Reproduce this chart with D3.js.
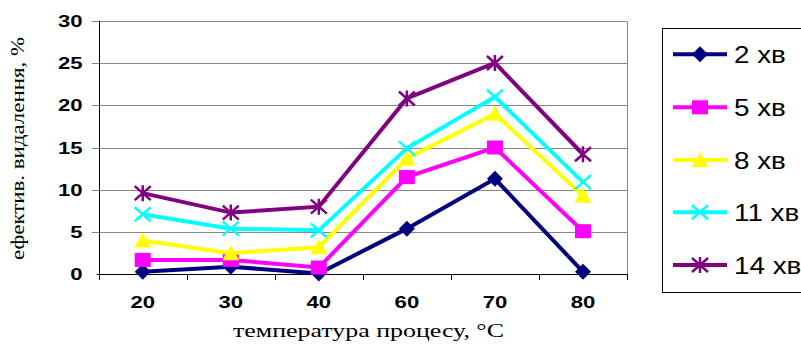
<!DOCTYPE html>
<html>
<head>
<meta charset="utf-8">
<script src="https://cdn.jsdelivr.net/npm/d3@7"></script>
<style>
  html, body { margin: 0; padding: 0; background: #fff; }
  svg { display: block; }
</style>
</head>
<body>
<svg id="chart" width="801" height="349"></svg>
<script>
// Temperature of the process, °C (categorical axis)
const categories = ["20", "30", "40", "60", "70", "80"];

// Removal efficiency, % — one array per treatment time
const series2min  = [0.3, 0.9, 0.1, 5.4, 11.3, 0.3];
const series5min  = [1.7, 1.7, 0.8, 11.5, 15.0, 5.1];
const series8min  = [4.0, 2.5, 3.2, 13.7, 19.0, 9.3];
const series11min = [7.1, 5.4, 5.2, 14.9, 21.0, 10.9];
const series14min = [9.6, 7.3, 8.0, 20.8, 25.0, 14.2];

const seriesNames = ["2 хв", "5 хв", "8 хв", "11 хв", "14 хв"];
const yTicks = [0, 5, 10, 15, 20, 25, 30];

const xTitle = "температура процесу, °С";
const yTitle = "ефектив. видалення, %";

const seriesList = [
  { name: seriesNames[0], values: series2min,  color: "#000080", marker: "diamond" },
  { name: seriesNames[1], values: series5min,  color: "#FF00FF", marker: "square" },
  { name: seriesNames[2], values: series8min,  color: "#FFFF00", marker: "triangle" },
  { name: seriesNames[3], values: series11min, color: "#00FFFF", marker: "cross" },
  { name: seriesNames[4], values: series14min, color: "#800080", marker: "star" }
];

const svg = d3.select("#chart");

const plot = { left: 98.7, right: 627, top: 20.7, bottom: 274.3 };

const x = d3.scaleBand()
  .domain(categories)
  .range([plot.left, plot.right])
  .paddingInner(0).paddingOuter(0);

const y = d3.scaleLinear()
  .domain([0, 30])
  .range([plot.bottom, plot.top]);

const cx = c => x(c) + x.bandwidth() / 2;

// Horizontal gridlines
svg.append("g")
  .selectAll("line")
  .data(yTicks.filter(t => t > 0))
  .join("line")
  .attr("x1", plot.left - 7).attr("x2", plot.right)
  .attr("y1", d => Math.round(y(d)) + 0.5).attr("y2", d => Math.round(y(d)) + 0.5)
  .attr("stroke", "#868686").attr("stroke-width", 1);

// Right border of the plot area
svg.append("line")
  .attr("x1", plot.right + 0.5).attr("x2", plot.right + 0.5)
  .attr("y1", Math.round(y(30)) + 0.5).attr("y2", Math.round(y(0)) + 0.5)
  .attr("stroke", "#868686");

// Y axis
const yAxis = svg.append("g")
  .attr("transform", `translate(${Math.round(plot.left) + 0.5},0)`);
yAxis.append("line")
  .attr("x1", 0).attr("x2", 0)
  .attr("y1", Math.round(y(30))).attr("y2", Math.round(y(0)) + 1)
  .attr("stroke", "#000");
yAxis.selectAll("text")
  .data(yTicks)
  .join("text")
  .attr("transform", d => `translate(-17,${y(d) + 6}) scale(1.3,1)`)
  .attr("text-anchor", "end")
  .attr("font-family", "Liberation Sans, Arial, sans-serif")
  .attr("font-weight", "bold")
  .attr("font-size", 17)
  .text(d => d);

// X axis
const xAxis = svg.append("g");
xAxis.append("line")
  .attr("x1", plot.left - 2).attr("x2", plot.right)
  .attr("y1", Math.round(y(0)) + 0.5).attr("y2", Math.round(y(0)) + 0.5)
  .attr("stroke", "#000");
const boundaries = categories.map(c => x(c)).concat([plot.right]);
xAxis.selectAll("line.tick")
  .data(boundaries)
  .join("line")
  .attr("class", "tick")
  .attr("x1", d => Math.round(d) + 0.5).attr("x2", d => Math.round(d) + 0.5)
  .attr("y1", Math.round(y(0))).attr("y2", Math.round(y(0)) + 6)
  .attr("stroke", "#000");
xAxis.selectAll("text")
  .data(categories)
  .join("text")
  .attr("transform", d => `translate(${cx(d)},308) scale(1.3,1)`)
  .attr("text-anchor", "middle")
  .attr("font-family", "Liberation Sans, Arial, sans-serif")
  .attr("font-weight", "bold")
  .attr("font-size", 17)
  .text(d => d);

// Axis titles
svg.append("text")
  .attr("x", 368.5).attr("y", 337)
  .attr("text-anchor", "middle")
  .attr("font-family", "Liberation Serif, Times New Roman, serif")
  .attr("font-size", 19)
  .attr("textLength", 271)
  .attr("lengthAdjust", "spacingAndGlyphs")
  .text(xTitle);

svg.append("text")
  .attr("transform", "translate(24,148.5) rotate(-90)")
  .attr("text-anchor", "middle")
  .attr("font-family", "Liberation Serif, Times New Roman, serif")
  .attr("font-size", 19)
  .attr("textLength", 223)
  .attr("lengthAdjust", "spacingAndGlyphs")
  .text(yTitle);

// Marker drawing
function drawMarker(g, type, color) {
  if (type === "diamond") {
    g.append("path").attr("d", "M0,-8 L8,0 L0,8 L-8,0 Z").attr("fill", color);
  } else if (type === "square") {
    g.append("rect").attr("x", -8).attr("y", -7).attr("width", 16).attr("height", 14).attr("fill", color);
  } else if (type === "triangle") {
    g.append("path").attr("d", "M0,-8 L8.5,7 L-8.5,7 Z").attr("fill", color);
  } else if (type === "cross") {
    g.append("path").attr("d", "M-8,-7 L8,7 M-8,7 L8,-7")
      .attr("stroke", color).attr("stroke-width", 2.5).attr("fill", "none");
  } else if (type === "star") {
    g.append("path").attr("d", "M-8,-7 L8,7 M-8,7 L8,-7 M0,-8 L0,8")
      .attr("stroke", color).attr("stroke-width", 2.5).attr("fill", "none");
  }
}

const line = d3.line()
  .x((d, i) => cx(categories[i]))
  .y(d => y(d));

// Series lines and markers
seriesList.forEach(s => {
  const g = svg.append("g");
  g.append("path")
    .attr("d", line(s.values))
    .attr("fill", "none")
    .attr("stroke", s.color)
    .attr("stroke-width", 4)
    .attr("stroke-linejoin", "miter");
  s.values.forEach((v, i) => {
    const m = g.append("g").attr("transform", `translate(${cx(categories[i])},${y(v)})`);
    drawMarker(m, s.marker, s.color);
  });
});

// Legend
const legend = svg.append("g");
legend.append("rect")
  .attr("x", 662.5).attr("y", 28.5)
  .attr("width", 160).attr("height", 264)
  .attr("fill", "#fff").attr("stroke", "#000");
const legendRows = [54.3, 107.3, 160, 212.3, 265];
seriesList.forEach((s, i) => {
  const ly = legendRows[i];
  legend.append("line")
    .attr("x1", 673).attr("x2", 727)
    .attr("y1", ly).attr("y2", ly)
    .attr("stroke", s.color).attr("stroke-width", 4);
  const m = legend.append("g").attr("transform", `translate(700,${ly})`);
  drawMarker(m, s.marker, s.color);
  legend.append("text")
    .attr("transform", `translate(734,${ly + 9}) scale(1.21,1)`)
    .attr("font-family", "Liberation Sans, Arial, sans-serif")
    .attr("font-size", 23)
    .text(s.name);
});
</script>
</body>
</html>
